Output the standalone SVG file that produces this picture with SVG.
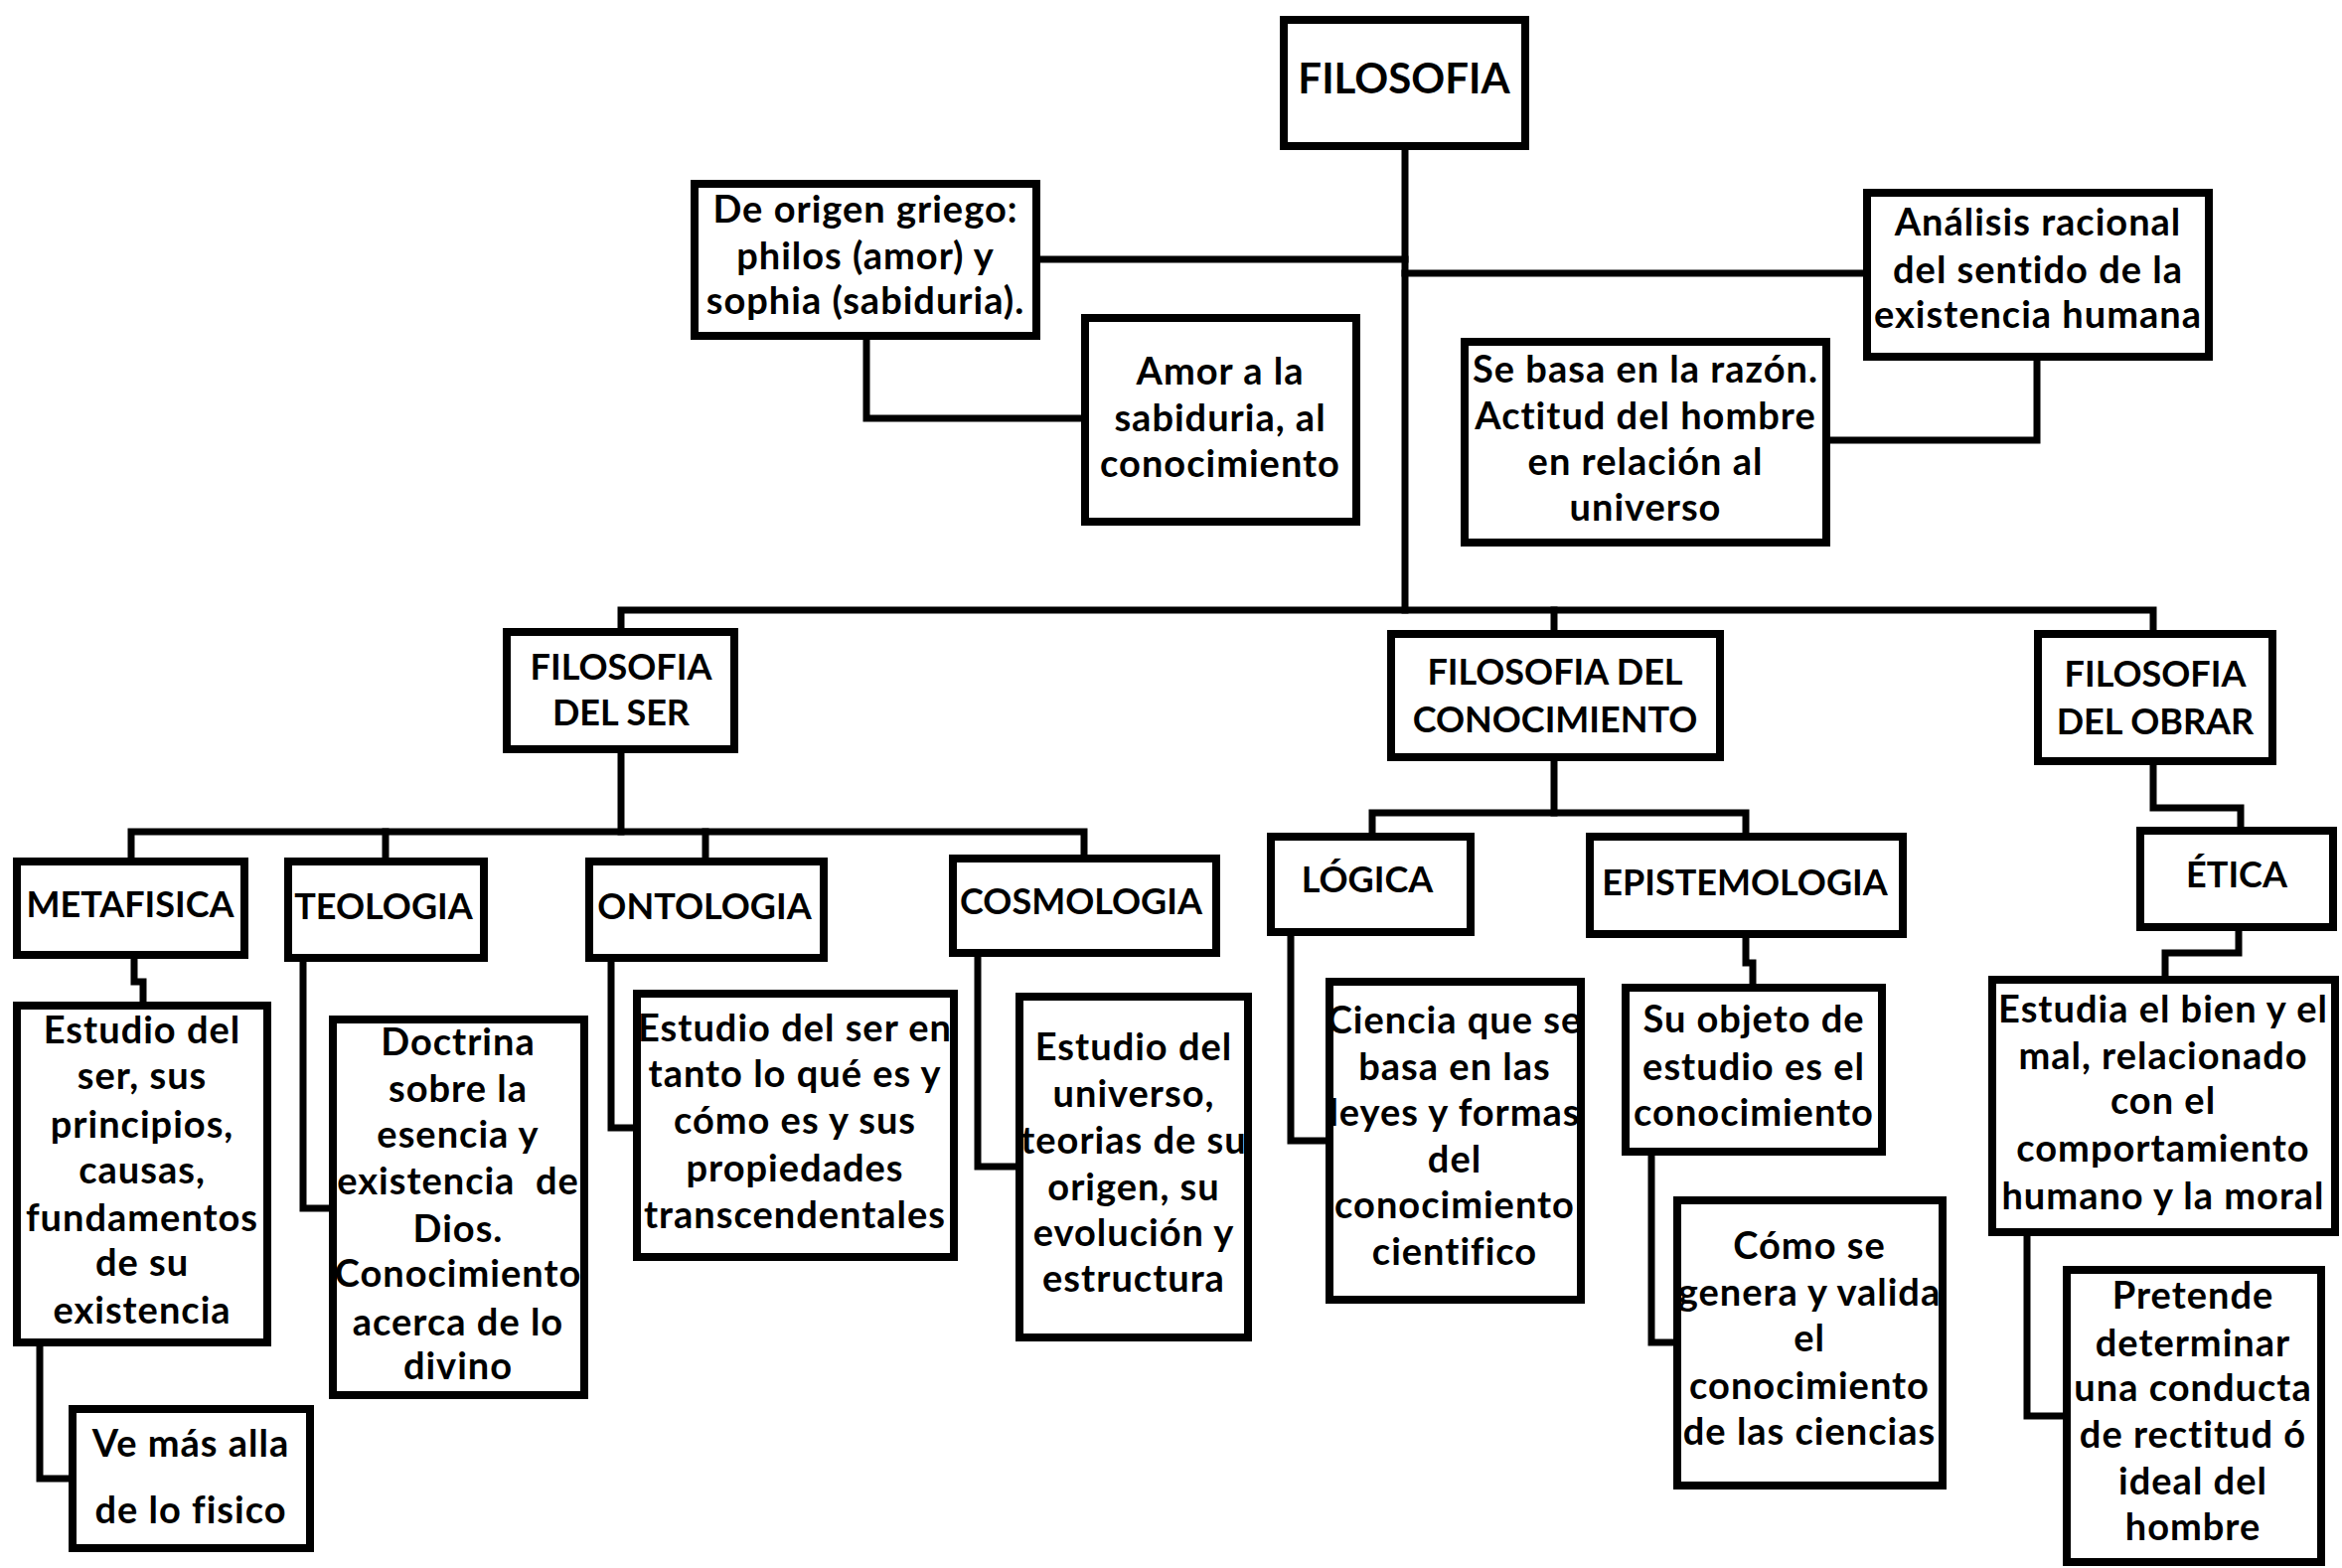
<svg xmlns="http://www.w3.org/2000/svg" width="2357" height="1578" viewBox="0 0 2357 1578">
<style>
.box{fill:#fff;stroke:#000;stroke-width:8;stroke-linejoin:miter}
.c{fill:none;stroke:#000;stroke-width:7;stroke-linejoin:miter;stroke-linecap:square}
text{font-family:Lato,"Open Sans","Liberation Sans",sans-serif;font-weight:700;font-size:38px;letter-spacing:1px;fill:#000;text-anchor:middle}
.t{font-size:36px;letter-spacing:0}
.h{font-size:42px;letter-spacing:0}
</style>
<rect width="2357" height="1578" fill="#fff"/>
<g id="connectors">
<path class="c" d="M1414 147 V614"/>
<path class="c" d="M1043 261 H1414"/>
<path class="c" d="M1414 275 H1879"/>
<path class="c" d="M872 338 V421 H1092"/>
<path class="c" d="M2050 359 V443 H1838"/>
<path class="c" d="M625 636 V614 H2167 V638"/>
<path class="c" d="M1564 614 V638"/>
<path class="c" d="M625 754 V837"/>
<path class="c" d="M132 867 V837 H1091 V864"/>
<path class="c" d="M388 837 V867"/>
<path class="c" d="M710 837 V867"/>
<path class="c" d="M1564 762 V818"/>
<path class="c" d="M1381 842 V818 H1757 V842"/>
<path class="c" d="M2167 766 V813 H2255 V836"/>
<path class="c" d="M135 961 V988 H144 V1012"/>
<path class="c" d="M40 1351 V1488 H73"/>
<path class="c" d="M305 964 V1216 H335"/>
<path class="c" d="M615 964 V1135 H641"/>
<path class="c" d="M984 959 V1174 H1026"/>
<path class="c" d="M1299 938 V1148 H1338"/>
<path class="c" d="M1757 940 V969 H1764 V994"/>
<path class="c" d="M1662 1159 V1351 H1688"/>
<path class="c" d="M2253 933 V959 H2179 V986"/>
<path class="c" d="M2040 1240 V1425 H2080"/>
</g>
<g id="filosofia"><rect class="box" x="1292" y="20" width="243" height="127"/><text class="h" x="1413" y="94">FILOSOFIA</text></g>
<g id="origen"><rect class="box" x="699" y="185" width="344" height="153"/>
<text x="871" y="224">De origen griego:</text><text x="871" y="271">philos (amor) y</text><text x="871" y="316">sophia (sabiduria).</text></g>
<g id="amor"><rect class="box" x="1092" y="320" width="273" height="205"/>
<text x="1228" y="387">Amor a la</text><text x="1228" y="434">sabiduria, al</text><text x="1228" y="480">conocimiento</text></g>
<g id="sebasa"><rect class="box" x="1474" y="344" width="364" height="202"/>
<text x="1656" y="385">Se basa en la razón.</text><text x="1656" y="432">Actitud del hombre</text><text x="1656" y="478">en relación al</text><text x="1656" y="524">universo</text></g>
<g id="analisis"><rect class="box" x="1879" y="194" width="344" height="165"/>
<text x="2051" y="237">Análisis racional</text><text x="2051" y="285">del sentido de la</text><text x="2051" y="330">existencia humana</text></g>
<g id="fser"><rect class="box" x="510" y="636" width="229" height="118"/>
<text class="t" x="625" y="684">FILOSOFIA</text><text class="t" x="625" y="730">DEL SER</text></g>
<g id="fcon"><rect class="box" x="1400" y="638" width="331" height="124"/>
<text class="t" x="1565" y="689">FILOSOFIA DEL</text><text class="t" x="1565" y="737">CONOCIMIENTO</text></g>
<g id="fobrar"><rect class="box" x="2051" y="638" width="236" height="128"/>
<text class="t" x="2169" y="691">FILOSOFIA</text><text class="t" x="2169" y="739">DEL OBRAR</text></g>
<g id="metafisica"><rect class="box" x="17" y="867" width="229" height="94"/><text class="t" x="131" y="923">METAFISICA</text></g>
<g id="teologia"><rect class="box" x="290" y="867" width="197" height="97"/><text class="t" x="386" y="925">TEOLOGIA</text></g>
<g id="ontologia"><rect class="box" x="593" y="867" width="236" height="97"/><text class="t" x="709" y="925">ONTOLOGIA</text></g>
<g id="cosmologia"><rect class="box" x="959" y="864" width="265" height="95"/><text class="t" x="1088" y="920">COSMOLOGIA</text></g>
<g id="logica"><rect class="box" x="1279" y="842" width="201" height="96"/><text class="t" x="1376" y="898">LÓGICA</text></g>
<g id="epistemologia"><rect class="box" x="1600" y="842" width="315" height="98"/><text class="t" x="1756" y="901">EPISTEMOLOGIA</text></g>
<g id="etica"><rect class="box" x="2154" y="836" width="194" height="97"/><text class="t" x="2251" y="893">ÉTICA</text></g>
<g id="metadesc"><rect class="box" x="17" y="1012" width="252" height="339"/>
<text x="143" y="1050">Estudio del</text><text x="143" y="1096">ser, sus</text><text x="143" y="1145">principios,</text><text x="143" y="1191">causas,</text><text x="143" y="1239">fundamentos</text><text x="143" y="1284">de su</text><text x="143" y="1332">existencia</text></g>
<g id="vemas"><rect class="box" x="73" y="1418" width="239" height="140"/>
<text x="192" y="1466">Ve más alla</text><text x="192" y="1533">de lo fisico</text></g>
<g id="doctrina"><rect class="box" x="335" y="1026" width="253" height="378"/>
<text x="461" y="1062">Doctrina</text><text x="461" y="1109">sobre la</text><text x="461" y="1155">esencia y</text><text x="461" y="1202" xml:space="preserve">existencia  de</text><text x="461" y="1250">Dios.</text><text x="461" y="1295">Conocimiento</text><text x="461" y="1344">acerca de lo</text><text x="461" y="1388">divino</text></g>
<g id="ontodesc"><rect class="box" x="641" y="1000" width="319" height="265"/>
<text x="800" y="1048">Estudio del ser en</text><text x="800" y="1094">tanto lo qué es y</text><text x="800" y="1141">cómo es y sus</text><text x="800" y="1189">propiedades</text><text x="800" y="1236">transcendentales</text></g>
<g id="cosmodesc"><rect class="box" x="1026" y="1003" width="230" height="343"/>
<text x="1141" y="1067">Estudio del</text><text x="1141" y="1114">universo,</text><text x="1141" y="1161">teorias de su</text><text x="1141" y="1208">origen, su</text><text x="1141" y="1254">evolución y</text><text x="1141" y="1300">estructura</text></g>
<g id="logicadesc"><rect class="box" x="1338" y="988" width="253" height="320"/>
<text x="1464" y="1040">Ciencia que se</text><text x="1464" y="1087">basa en las</text><text x="1464" y="1133">leyes y formas</text><text x="1464" y="1180">del</text><text x="1464" y="1226">conocimiento</text><text x="1464" y="1273">cientifico</text></g>
<g id="suobjeto"><rect class="box" x="1636" y="994" width="258" height="165"/>
<text x="1765" y="1039">Su objeto de</text><text x="1765" y="1087">estudio es el</text><text x="1765" y="1133">conocimiento</text></g>
<g id="comose"><rect class="box" x="1688" y="1208" width="267" height="287"/>
<text x="1821" y="1267">Cómo se</text><text x="1821" y="1314">genera y valida</text><text x="1821" y="1360">el</text><text x="1821" y="1408">conocimiento</text><text x="1821" y="1454">de las ciencias</text></g>
<g id="estudia"><rect class="box" x="2005" y="986" width="345" height="254"/>
<text x="2177" y="1029">Estudia el bien y el</text><text x="2177" y="1076">mal, relacionado</text><text x="2177" y="1121">con el</text><text x="2177" y="1169">comportamiento</text><text x="2177" y="1217">humano y la moral</text></g>
<g id="pretende"><rect class="box" x="2080" y="1278" width="256" height="294"/>
<text x="2207" y="1317">Pretende</text><text x="2207" y="1365">determinar</text><text x="2207" y="1410">una conducta</text><text x="2207" y="1457">de rectitud ó</text><text x="2207" y="1504">ideal del</text><text x="2207" y="1550">hombre</text></g>
</svg>
